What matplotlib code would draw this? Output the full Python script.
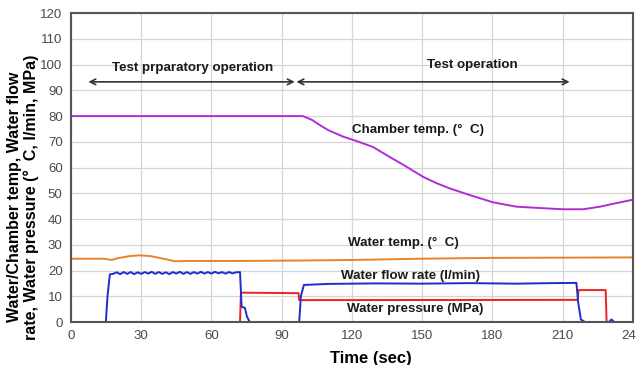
import matplotlib.pyplot as plt
import numpy as np

plt.rcParams['font.family'] = ['Liberation Sans', 'DejaVu Sans']

# chamber temperature
t_chamber = [0, 30, 60, 90, 99, 103, 106.3, 110, 116.3, 122, 129, 136, 143, 150.4, 156,
             161.8, 170.4, 180.3, 190.3, 200, 210.2, 218.8, 225.9, 232, 239.4]
chamber = [80, 80, 80, 80, 80, 78.5, 76.5, 74.5, 72, 70.3, 68, 64.2, 60.5, 56.4, 54,
           51.9, 49.3, 46.5, 44.8, 44.3, 43.8, 43.8, 44.8, 46, 47.4]

# water temperature
t_water = [0, 14, 17.4, 20, 25, 29.5, 34, 40, 44.4, 50, 70, 100, 120, 150, 180, 210, 240]
water_temp = [24.6, 24.6, 24.1, 24.8, 25.6, 25.9, 25.6, 24.5, 23.6, 23.7, 23.7, 23.9,
              24.1, 24.6, 24.9, 25.0, 25.1]

# water flow rate
t_flow = [0, 14.9, 15.6, 16.6, 18, 19.5, 21, 22.5, 24, 25.5, 27, 28.5, 30, 31.5, 33,
          34.5, 36, 37.5, 39, 40.5, 42, 43.5, 45, 46.5, 48, 49.5, 51, 52.5, 54, 55.5,
          57, 58.5, 60, 61.5, 63, 64.5, 66, 67.5, 69, 70.5, 72.2, 72.9, 74.3, 75.2,
          76.4, 97.5, 98.2, 99.5, 110, 130, 150, 170, 190, 205, 215.9, 216.6, 217.8,
          219.5, 229.8, 230.9, 232, 240]
flow = [0, 0, 10, 18.5, 18.7, 19.3, 18.6, 19.4, 18.7, 19.4, 18.6, 19.3, 18.7, 19.4,
        18.8, 19.5, 18.7, 19.4, 18.7, 19.3, 18.6, 19.4, 18.8, 19.5, 18.7, 19.4, 18.7,
        19.4, 18.8, 19.5, 18.8, 19.4, 18.8, 19.5, 18.9, 19.4, 18.8, 19.4, 18.9, 19.3,
        19.4, 5.9, 5.5, 2, 0, 0, 10, 14.4, 14.8, 15.0, 14.9, 15.1, 14.9, 15.1, 15.2,
        8, 1, 0, 0, 1, 0, 0]

# water pressure
t_press = [0, 72.2, 72.6, 97.2, 97.5, 216.5, 216.8, 228.4, 228.8, 240]
press = [0, 0, 11.4, 11.2, 8.5, 8.6, 12.4, 12.4, 0, 0]

fig = plt.figure(figsize=(6.36, 3.65), dpi=100)
ax = fig.add_axes([0.1116, 0.1178, 0.8834, 0.8462])

ax.plot(t_chamber, chamber, color='#B42BD6', lw=1.4)
ax.plot(t_water, water_temp, color='#E8832C', lw=1.4)
ax.plot(t_press, press, color='#F01E1E', lw=1.4)
ax.plot(t_flow, flow, color='#1E2DCC', lw=1.4)

ax.set_xlim(0, 240)
ax.set_ylim(0, 120)
ax.set_xticks(np.arange(0, 241, 30))
ax.set_yticks(np.arange(0, 121, 10))
ax.grid(True, color='#D6D6D6', lw=0.9)
ax.set_axisbelow(True)
ax.tick_params(length=0, labelsize=9.5, labelcolor='#4A4A4A', pad=6)
for sp in ax.spines.values():
    sp.set_color('#555555')
    sp.set_linewidth(1.5)

ax.set_xlabel('Time (sec)', fontsize=12, fontweight='bold')
ax.xaxis.set_label_coords(0.534, -0.095)
ax.set_ylabel('Water/Chamber temp, Water flow\nrate, Water pressure (\u00b0  C, l/min, MPa)',
              fontsize=11.5, fontweight='bold', linespacing=1.1)
ax.yaxis.set_label_coords(-0.057, 0.405)

arrow = dict(arrowstyle='<->', color='#333333', lw=1.2, shrinkA=0, shrinkB=0)
ax.annotate('', xy=(7.4, 93.3), xytext=(95.6, 93.3), arrowprops=arrow)
ax.annotate('', xy=(96.3, 93.3), xytext=(213, 93.3), arrowprops=arrow)

bold = dict(fontsize=9.6, fontweight='bold', color='#1A1A1A')
ax.text(51.9, 98.5, 'Test prparatory operation', ha='center', va='center', **bold)
ax.text(171.4, 99.8, 'Test operation', ha='center', va='center', **bold)
ax.text(120, 74.6, 'Chamber temp. (\u00b0  C)', ha='left', va='center', **bold)
ax.text(118.3, 30.6, 'Water temp. (\u00b0  C)', ha='left', va='center', **bold)
ax.text(115.5, 18, 'Water flow rate (l/min)', ha='left', va='center', **bold)
ax.text(117.7, 4.9, 'Water pressure (MPa)', ha='left', va='center', **bold)

fig.savefig('out.png', dpi=100)
